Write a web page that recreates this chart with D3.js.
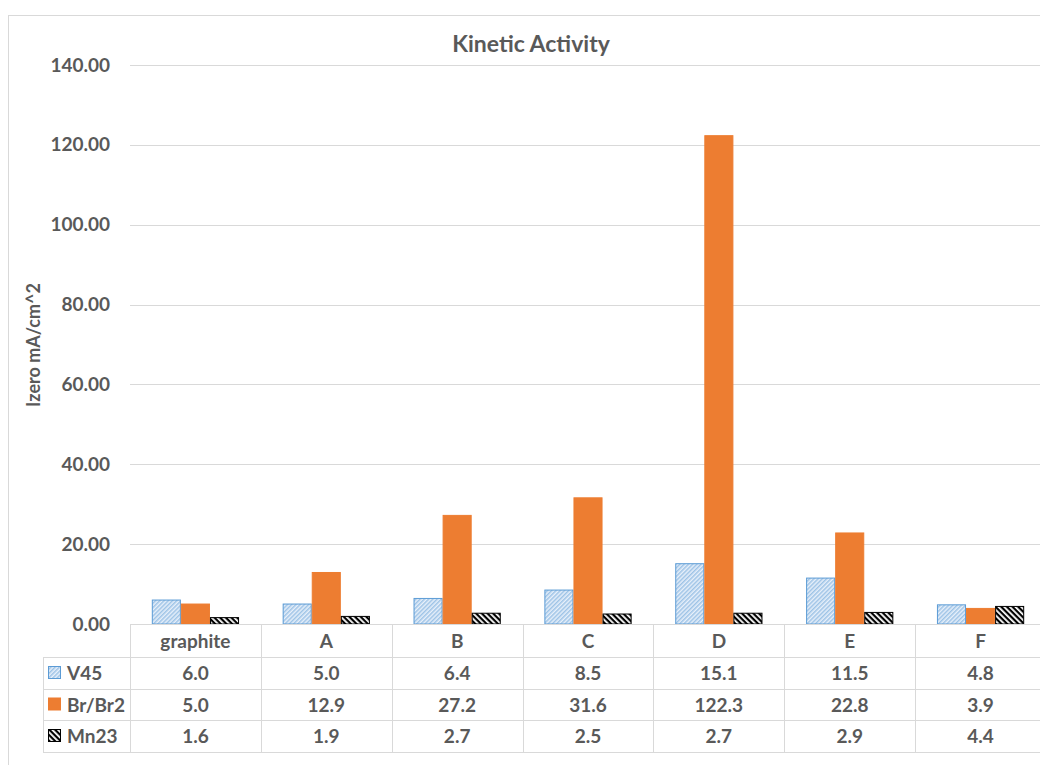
<!DOCTYPE html>
<html>
<head>
<meta charset="utf-8">
<script src="https://cdn.jsdelivr.net/npm/d3@7"></script>
<style>
  html, body { margin: 0; padding: 0; background: #fff; }
  svg { display: block; font-family: "Lato", "Open Sans", sans-serif; }
</style>
</head>
<body>
<svg id="chart" width="1040" height="765"></svg>
<script>
// Kinetic activity per electrode material
const categories = ["graphite", "A", "B", "C", "D", "E", "F"];
const seriesNames = ["V45", "Br/Br2", "Mn23"];
const v45 = [6.0, 5.0, 6.4, 8.5, 15.1, 11.5, 4.8];
const brBr2 = [5.0, 12.9, 27.2, 31.6, 122.3, 22.8, 3.9];
const mn23 = [1.6, 1.9, 2.7, 2.5, 2.7, 2.9, 4.4];
const yTicks = [0, 20, 40, 60, 80, 100, 120, 140];

const seriesValues = [v45, brBr2, mn23];
const textColor = "#595959";
const gridColor = "#d9d9d9";
const fontSize = 19;

const svg = d3.select("#chart");
const defs = svg.append("defs");

// Light blue upward-diagonal hatch
const pV = defs.append("pattern").attr("id", "hatchV45")
  .attr("patternUnits", "userSpaceOnUse").attr("width", 3).attr("height", 3)
  .attr("patternTransform", "rotate(45)");
pV.append("rect").attr("width", 3).attr("height", 3).attr("fill", "#e8f0fa");
pV.append("rect").attr("width", 1.5).attr("height", 3).attr("fill", "#9dc3e6");

// Dark downward-diagonal hatch
const pM = defs.append("pattern").attr("id", "hatchMn")
  .attr("patternUnits", "userSpaceOnUse").attr("width", 4).attr("height", 4)
  .attr("patternTransform", "rotate(-45)");
pM.append("rect").attr("width", 4).attr("height", 4).attr("fill", "#000");
pM.append("rect").attr("width", 1.8).attr("height", 4).attr("fill", "#fff");

const fills = ["url(#hatchV45)", "#ed7d31", "url(#hatchMn)"];
const strokes = ["#5b9bd5", "#ed7d31", "#000"];

// Chart frame
svg.append("rect").attr("x", 8.5).attr("y", 15.5)
  .attr("width", 1100).attr("height", 800)
  .attr("fill", "none").attr("stroke", gridColor);

const plotLeft = 130, plotRight = 1046, plotTop = 65, plotBottom = 624;

const x = d3.scaleBand().domain(categories).range([plotLeft, plotRight]).padding(0);
const xs = d3.scaleBand().domain(seriesNames).range([0, x.bandwidth()])
  .paddingInner(0).paddingOuter(0.75);
const y = d3.scaleLinear().domain([0, 140]).range([plotBottom, plotTop]);

// Gridlines
svg.append("g").selectAll("line").data(yTicks.filter(d => d > 0)).join("line")
  .attr("x1", plotLeft).attr("x2", plotRight)
  .attr("y1", d => Math.round(y(d)) + 0.5).attr("y2", d => Math.round(y(d)) + 0.5)
  .attr("stroke", gridColor).attr("stroke-width", 1);

// Y axis labels
const yAxis = d3.axisLeft(y).tickValues(yTicks).tickFormat(d3.format(".2f")).tickSize(0).tickPadding(0);
const yG = svg.append("g").attr("transform", "translate(110,0)").call(yAxis);
yG.select(".domain").remove();
yG.selectAll("text").attr("fill", textColor).attr("font-size", fontSize)
  .attr("font-weight", "bold").attr("font-family", "Lato, 'Open Sans', sans-serif");

// Bars
seriesNames.forEach((name, si) => {
  svg.append("g").selectAll("rect").data(categories).join("rect")
    .attr("x", c => x(c) + xs(name) + 0.5)
    .attr("y", (c, i) => y(seriesValues[si][i]))
    .attr("width", xs.bandwidth() - 1)
    .attr("height", (c, i) => y(0) - y(seriesValues[si][i]))
    .attr("fill", fills[si])
    .attr("stroke", strokes[si])
    .attr("stroke-width", 1);
});

// Data table
const tableLeft = 43;
const rowEdges = [624, 657, 689, 720, 752];
const tg = svg.append("g");
// axis line / table top
tg.append("line").attr("x1", plotLeft).attr("x2", plotRight)
  .attr("y1", rowEdges[0] + 0.5).attr("y2", rowEdges[0] + 0.5)
  .attr("stroke", gridColor);
rowEdges.slice(1).forEach(ry => {
  tg.append("line").attr("x1", tableLeft).attr("x2", plotRight)
    .attr("y1", ry + 0.5).attr("y2", ry + 0.5).attr("stroke", gridColor);
});
// vertical separators
categories.forEach(c => {
  tg.append("line").attr("x1", Math.round(x(c)) + 0.5).attr("x2", Math.round(x(c)) + 0.5)
    .attr("y1", rowEdges[0]).attr("y2", rowEdges[4]).attr("stroke", gridColor);
});
tg.append("line").attr("x1", tableLeft + 0.5).attr("x2", tableLeft + 0.5)
  .attr("y1", rowEdges[1]).attr("y2", rowEdges[4]).attr("stroke", gridColor);

// category header
tg.selectAll("text.cat").data(categories).join("text").attr("class", "cat")
  .attr("x", c => x(c) + x.bandwidth() / 2)
  .attr("y", (rowEdges[0] + rowEdges[1]) / 2 + 7)
  .attr("text-anchor", "middle").attr("font-size", fontSize).attr("font-weight", "bold")
  .attr("fill", textColor).text(c => c);

// series rows
seriesNames.forEach((name, si) => {
  const cy = (rowEdges[si + 1] + rowEdges[si + 2]) / 2;
  tg.append("rect").attr("x", 48.5).attr("y", cy - 6.5).attr("width", 12).attr("height", 12)
    .attr("fill", fills[si]).attr("stroke", strokes[si]).attr("stroke-width", 1);
  tg.append("text").attr("x", 67).attr("y", cy + 7)
    .attr("font-size", fontSize).attr("font-weight", "bold").attr("fill", textColor).text(name);
  tg.selectAll(null).data(categories).join("text")
    .attr("x", c => x(c) + x.bandwidth() / 2).attr("y", cy + 7)
    .attr("text-anchor", "middle").attr("font-size", fontSize).attr("font-weight", "bold")
    .attr("fill", textColor).text((c, i) => d3.format(".1f")(seriesValues[si][i]));
});

// Title
svg.append("text").attr("x", 531).attr("y", 52).attr("text-anchor", "middle")
  .attr("font-size", 23).attr("font-weight", "bold").attr("fill", textColor)
  .text("Kinetic Activity");

// Y axis title
svg.append("text").attr("transform", "translate(40,345) rotate(-90)")
  .attr("text-anchor", "middle").attr("font-size", 18).attr("font-weight", "bold")
  .attr("fill", textColor).text("Izero mA/cm^2");
</script>
</body>
</html>
